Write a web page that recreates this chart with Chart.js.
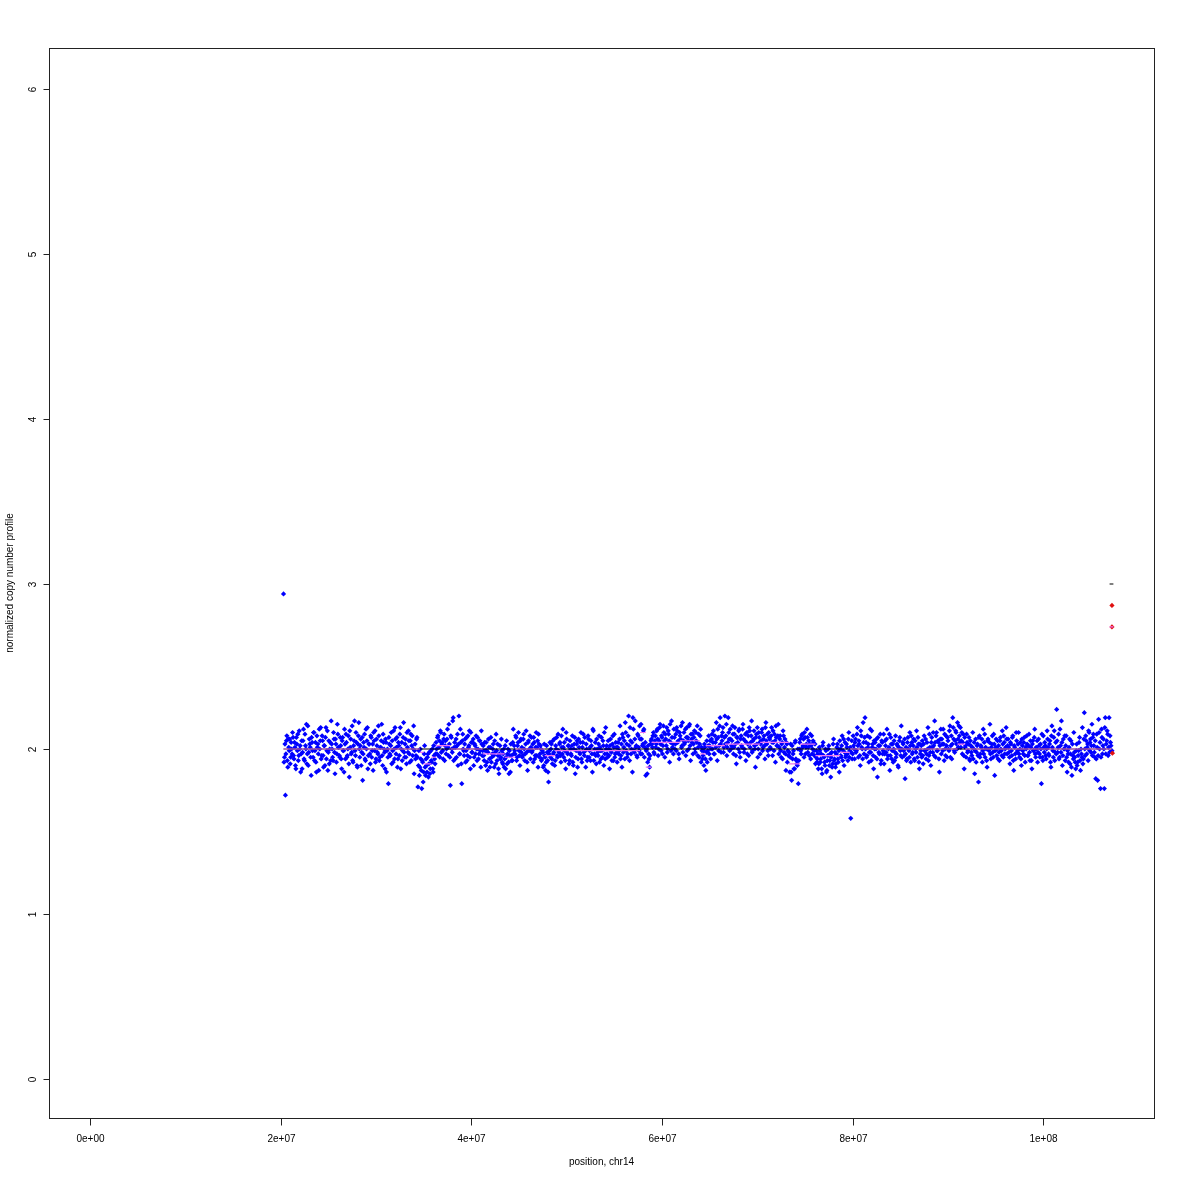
<!DOCTYPE html>
<html><head><meta charset="utf-8">
<script src="https://cdn.jsdelivr.net/npm/chart.js@4.4.1/dist/chart.umd.min.js"></script>
<style>html,body{margin:0;padding:0;background:#fff}#wrap{width:1180px;height:1180px}</style>
</head><body><div id="wrap"><canvas id="c" width="1180" height="1180"></canvas></div>
<script>
// bin positions (set A), in units of 100 kb along chr14
const positions100kb = [
203,204,205,206,207,208,209,210,211,212, 213,214,215,216,217,218,219,220,221,222,
223,224,225,226,227,228,229,230,231,232, 233,234,235,236,237,238,239,240,241,242,
243,244,245,246,247,248,249,250,251,252, 253,254,255,256,257,258,259,260,261,262,
263,264,265,266,267,268,269,270,271,272, 273,274,275,276,277,278,279,280,281,282,
283,284,285,286,287,288,289,290,291,292, 293,294,295,296,297,298,299,300,301,302,
303,304,305,306,307,308,309,310,311,312, 313,314,315,316,317,318,319,320,321,322,
323,324,325,326,327,328,329,330,331,332, 333,334,335,336,337,338,339,340,341,342,
343,344,345,346,347,348,349,350,351,352, 353,354,355,356,357,358,359,360,361,362,
363,364,365,366,367,368,369,370,371,372, 373,374,375,376,377,378,379,380,381,382,
383,384,385,386,387,388,389,390,391,392, 393,394,395,396,397,398,399,400,401,402,
403,404,405,406,407,408,409,410,411,412, 413,414,415,416,417,418,419,420,421,422,
423,424,425,426,427,428,429,430,431,432, 433,434,435,436,437,438,439,440,441,442,
443,444,445,446,447,448,449,450,451,452, 453,454,455,456,457,458,459,460,461,462,
463,464,465,466,467,468,469,470,471,472, 473,474,475,476,477,478,479,480,481,482,
483,484,485,486,487,488,489,490,491,492, 493,494,495,496,497,498,499,500,501,502,
503,504,505,506,507,508,509,510,511,512, 513,514,515,516,517,518,519,520,521,522,
523,524,525,526,527,528,529,530,531,532, 533,534,535,536,537,538,539,540,541,542,
543,544,545,546,547,548,549,550,551,552, 553,554,555,556,557,558,559,560,561,562,
563,564,565,566,567,568,569,570,571,572, 573,574,575,576,577,578,579,580,581,582,
583,584,585,586,587,588,589,590,591,592, 593,594,595,596,597,598,599,600,601,602,
603,604,605,606,607,608,609,610,611,612, 613,614,615,616,617,618,619,620,621,622,
623,624,625,626,627,628,629,630,631,632, 633,634,635,636,637,638,639,640,641,642,
643,644,645,646,647,648,649,650,651,652, 653,654,655,656,657,658,659,660,661,662,
663,664,665,666,667,668,669,670,671,672, 673,674,675,676,677,678,679,680,681,682,
683,684,685,686,687,688,689,690,691,692, 693,694,695,696,697,698,699,700,701,702,
703,704,705,706,707,708,709,710,711,712, 713,714,715,716,717,718,719,720,721,722,
723,724,725,726,727,728,729,730,731,732, 733,734,735,736,737,738,739,740,741,742,
743,744,745,746,747,748,749,750,751,752, 753,754,755,756,757,758,759,760,761,762,
763,764,765,766,767,768,769,770,771,772, 773,774,775,776,777,778,779,780,781,782,
783,784,785,786,787,788,789,790,791,792, 793,794,795,796,797,798,799,800,801,802,
803,804,805,806,807,808,809,810,811,812, 813,814,815,816,817,818,819,820,821,822,
823,824,825,826,827,828,829,830,831,832, 833,834,835,836,837,838,839,840,841,842,
843,844,845,846,847,848,849,850,851,852, 853,854,855,856,857,858,859,860,861,862,
863,864,865,866,867,868,869,870,871,872, 873,874,875,876,877,878,879,880,881,882,
883,884,885,886,887,888,889,890,891,892, 893,894,895,896,897,898,899,900,901,902,
903,904,905,906,907,908,909,910,911,912, 913,914,915,916,917,918,919,920,921,922,
923,924,925,926,927,928,929,930,931,932, 933,934,935,936,937,938,939,940,941,942,
943,944,945,946,947,948,949,950,951,952, 953,954,955,956,957,958,959,960,961,962,
963,964,965,966,967,968,969,970,971,972, 973,974,975,976,977,978,979,980,981,982,
983,984,985,986,987,988,989,990,991,992, 993,994,995,996,997,998,999,1000,1001,1002,
1003,1004,1005,1006,1007,1008,1009,1010,1011,1012, 1013,1014,1015,1016,1017,1018,1019,1020,1021,1022,
1023,1024,1025,1026,1027,1028,1029,1030,1031,1032, 1033,1034,1035,1036,1037,1038,1039,1040,1041,1042,
1043,1044,1045,1046,1047,1048,1049,1050,1051,1052, 1053,1054,1055,1056,1057,1058,1059,1060,1061,1062,
1063,1064,1065,1066,1067,1068,1069,1070,1071,1072
];
// normalized copy number per bin (set A)
const copyNumber = [
2.94,1.95,1.72,2.05,1.93,2.06,1.99,1.91,2.04,1.97, 2.07,1.94,2.01,1.88,2.03,2.09,1.96,2.00,1.86,2.05,
1.98,2.12,1.93,2.02,2.15,1.97,1.90,2.06,2.01,1.84, 2.04,1.95,2.10,1.99,1.92,2.08,2.03,1.87,2.00,2.13,
1.96,2.05,1.89,2.02,2.07,1.94,2.11,1.98,1.91,2.04, 2.17,2.00,1.93,2.06,1.85,2.03,1.97,2.09,2.01,1.95,
2.02,1.88,2.07,1.99,2.12,1.94,2.04,1.96,2.08,1.83, 2.01,1.97,2.14,1.92,2.05,1.99,2.10,1.90,2.03,2.16,
1.95,2.06,1.98,1.81,2.04,2.09,1.93,2.00,2.13,1.96, 2.03,1.91,2.07,1.99,1.87,2.05,2.11,1.94,2.02,1.97,
2.08,1.95,2.01,2.15,1.90,2.04,1.98,2.06,1.86,2.00, 1.79,2.03,1.96,2.10,2.05,1.92,2.00,2.13,1.97,2.07,
1.94,2.02,2.09,1.88,2.04,1.99,2.16,1.95,2.06,1.91, 2.01,2.11,1.97,2.05,1.93,2.08,2.00,1.85,2.03,1.96,
2.07,1.77,1.99,1.89,1.94,1.76,1.92,1.86,2.02,1.84, 1.90,1.95,1.83,1.98,1.88,1.93,2.00,1.86,1.96,1.91,
2.04,1.97,2.08,2.01,1.95,2.10,2.03,1.99,2.06,1.93, 2.05,2.00,2.12,1.96,2.03,1.78,2.07,1.98,2.19,2.01,
1.94,2.06,2.02,1.90,2.20,1.97,2.04,1.79,2.09,1.99, 2.03,1.92,2.07,1.96,2.01,2.11,1.88,2.04,1.98,2.06,
1.95,2.02,2.08,1.93,2.00,1.97,2.05,1.89,2.03,1.99, 1.96,2.04,1.90,1.99,1.87,2.06,1.94,2.01,1.92,1.97,
2.03,1.89,1.98,2.09,1.93,1.96,1.85,2.02,1.95,1.99, 1.91,2.00,1.94,1.88,2.05,1.97,1.92,1.99,1.86,1.96,
1.93,2.12,2.02,1.97,2.07,1.95,2.04,1.99,1.90,2.06, 2.01,1.96,2.09,1.93,2.03,1.98,1.87,2.05,2.00,1.94,
2.07,1.99,1.92,2.04,1.96,2.10,2.01,1.89,2.03,1.97, 2.00,1.94,1.98,1.90,1.96,1.87,2.02,1.93,1.80,1.99,
1.95,2.03,1.91,1.97,2.06,1.93,2.00,1.96,2.09,1.98, 2.04,1.92,2.01,2.12,1.95,1.99,1.88,2.06,1.97,2.02,
1.93,2.00,1.96,2.08,1.90,2.03,1.85,1.99,2.05,1.94, 2.01,1.97,2.10,1.92,2.04,1.98,2.07,1.89,2.00,1.95,
2.06,1.99,1.93,2.02,1.86,2.11,1.97,2.04,1.91,2.00, 1.96,2.08,2.01,1.94,1.99,2.05,1.90,1.97,2.13,2.02,
1.95,2.00,1.88,2.06,1.98,2.03,1.93,2.09,1.97,2.01, 1.92,2.04,1.99,2.14,1.96,1.89,2.07,2.01,1.94,2.10,
2.03,1.97,2.20,1.93,2.05,2.00,1.86,2.12,1.98,2.17, 2.02,1.95,2.08,1.99,2.06,2.15,1.97,2.03,2.12,2.01,
1.84,2.00,1.92,1.97,1.89,2.03,2.06,2.01,2.10,1.97, 2.08,2.03,2.12,1.96,2.05,2.15,1.99,2.07,2.02,2.10,
1.95,2.06,2.13,2.00,2.09,1.92,2.04,2.17,2.01,1.97, 2.07,2.03,1.99,2.11,2.05,1.94,2.08,2.14,2.02,1.98,
2.10,2.04,1.96,2.13,2.07,2.00,2.15,1.93,2.06,2.09, 2.03,2.11,1.98,2.05,2.14,2.01,1.95,2.08,1.92,1.99,
1.96,1.90,2.01,1.87,2.05,1.99,2.08,2.02,1.94,2.06, 2.00,2.11,1.97,2.04,2.16,1.93,2.07,2.02,2.19,1.98,
2.05,2.13,2.01,2.20,2.08,1.96,2.04,2.10,1.99,2.06, 2.02,2.14,1.97,2.09,2.03,1.91,2.07,2.00,2.12,1.95,
2.08,2.01,2.15,1.98,2.05,1.93,2.10,2.03,1.96,2.11, 2.04,2.17,1.99,2.06,2.02,1.89,2.09,2.13,2.00,2.07,
1.97,2.05,2.12,2.01,2.08,1.94,2.16,2.03,1.99,2.10, 2.06,2.00,2.13,1.96,2.04,2.09,1.92,2.07,2.02,2.15,
2.01,2.08,1.95,2.04,2.11,1.98,2.06,1.87,2.03,1.99, 1.96,1.86,2.03,1.81,1.94,1.99,1.88,2.05,1.93,1.90,
1.79,2.00,2.06,1.97,2.09,2.02,1.95,2.07,2.01,2.12, 1.98,2.05,2.03,1.94,2.08,2.00,2.04,1.96,1.91,1.99,
1.94,1.88,2.01,1.92,1.97,1.85,2.04,1.95,1.90,1.99, 1.87,1.96,2.02,1.93,1.83,1.98,1.91,2.06,1.94,1.89,
1.97,2.03,1.92,1.86,2.00,1.95,2.08,1.99,1.90,2.04, 1.96,2.01,1.93,2.10,1.99,1.58,2.05,1.97,2.02,1.94,
2.06,1.99,2.13,1.95,2.03,1.90,2.08,2.00,2.16,1.97, 2.19,2.04,1.96,2.01,1.92,2.07,1.98,2.11,2.03,1.88,
2.00,1.95,2.06,1.83,2.02,1.97,2.09,1.93,2.04,1.99, 1.91,2.05,1.98,2.12,1.96,2.01,1.87,2.07,1.94,2.03,
2.00,1.93,2.08,1.97,2.02,1.89,2.05,1.99,2.14,1.95, 2.03,1.96,1.82,2.01,1.94,2.07,1.99,2.10,1.92,2.04,
1.98,2.06,1.93,2.00,2.11,1.95,2.03,1.88,1.97,2.02, 2.05,1.91,2.08,1.99,1.94,2.04,2.13,1.96,2.01,1.90,
2.07,1.98,2.02,2.17,1.95,2.10,1.99,2.04,1.86,2.06, 1.97,2.03,2.12,1.93,2.00,2.08,1.95,2.05,1.99,2.14,
2.02,1.94,2.19,2.06,1.98,2.11,2.03,2.16,2.01,2.08, 2.13,2.05,1.97,2.09,1.88,2.01,1.95,2.04,1.99,2.07,
1.93,2.02,1.96,2.10,2.00,1.85,2.06,1.98,2.03,1.80, 2.08,1.97,2.01,1.92,2.12,2.04,1.95,2.00,1.89,2.06,
1.99,2.15,1.94,2.03,1.98,2.09,1.84,2.01,1.96,2.05, 2.02,1.93,2.07,1.99,2.11,1.95,2.04,2.00,2.13,1.97,
2.06,1.98,1.91,2.03,1.96,2.08,1.87,2.01,1.94,2.05, 1.99,2.10,1.95,2.04,1.90,2.02,1.97,2.07,1.92,2.00,
2.03,1.96,2.09,1.93,2.01,1.88,2.05,1.99,2.12,1.95, 2.00,1.92,2.06,1.97,2.03,1.79,1.95,2.08,1.98,2.02,
1.94,2.11,2.01,1.96,2.05,1.89,2.14,1.99,2.07,1.93, 2.04,2.24,1.98,2.09,1.95,2.02,2.17,1.90,2.06,2.00,
1.93,2.08,1.86,1.97,2.01,1.91,2.05,1.84,1.96,2.10, 1.95,1.88,2.03,1.92,1.99,2.07,1.87,1.97,2.13,1.94,
2.22,1.96,2.05,2.01,1.93,2.10,2.04,1.98,2.15,2.07, 2.02,1.95,1.82,2.09,1.81,2.18,2.00,1.76,2.12,1.97,
2.06,1.76,2.19,2.03,2.11,1.96,2.19,2.08,2.02,1.99
];
// bin positions (set B, interleaved bins), in units of 100 kb
const positionsB100kb = [
203.5,204.5,205.5,206.5,207.5,208.5,209.5,210.5,211.5,212.5, 213.5,214.5,215.5,216.5,217.5,218.5,219.5,220.5,221.5,222.5,
223.5,224.5,225.5,226.5,227.5,228.5,229.5,230.5,231.5,232.5, 233.5,234.5,235.5,236.5,237.5,238.5,239.5,240.5,241.5,242.5,
243.5,244.5,245.5,246.5,247.5,248.5,249.5,250.5,251.5,252.5, 253.5,254.5,255.5,256.5,257.5,258.5,259.5,260.5,261.5,262.5,
263.5,264.5,265.5,266.5,267.5,268.5,269.5,270.5,271.5,272.5, 273.5,274.5,275.5,276.5,277.5,278.5,279.5,280.5,281.5,282.5,
283.5,284.5,285.5,286.5,287.5,288.5,289.5,290.5,291.5,292.5, 293.5,294.5,295.5,296.5,297.5,298.5,299.5,300.5,301.5,302.5,
303.5,304.5,305.5,306.5,307.5,308.5,309.5,310.5,311.5,312.5, 313.5,314.5,315.5,316.5,317.5,318.5,319.5,320.5,321.5,322.5,
323.5,324.5,325.5,326.5,327.5,328.5,329.5,330.5,331.5,332.5, 333.5,334.5,335.5,336.5,337.5,338.5,339.5,340.5,341.5,342.5,
343.5,344.5,345.5,346.5,347.5,348.5,349.5,350.5,351.5,352.5, 353.5,354.5,355.5,356.5,357.5,358.5,359.5,360.5,361.5,362.5,
363.5,364.5,365.5,366.5,367.5,368.5,369.5,370.5,371.5,372.5, 373.5,374.5,375.5,376.5,377.5,378.5,379.5,380.5,381.5,382.5,
383.5,384.5,385.5,386.5,387.5,388.5,389.5,390.5,391.5,392.5, 393.5,394.5,395.5,396.5,397.5,398.5,399.5,400.5,401.5,402.5,
403.5,404.5,405.5,406.5,407.5,408.5,409.5,410.5,411.5,412.5, 413.5,414.5,415.5,416.5,417.5,418.5,419.5,420.5,421.5,422.5,
423.5,424.5,425.5,426.5,427.5,428.5,429.5,430.5,431.5,432.5, 433.5,434.5,435.5,436.5,437.5,438.5,439.5,440.5,441.5,442.5,
443.5,444.5,445.5,446.5,447.5,448.5,449.5,450.5,451.5,452.5, 453.5,454.5,455.5,456.5,457.5,458.5,459.5,460.5,461.5,462.5,
463.5,464.5,465.5,466.5,467.5,468.5,469.5,470.5,471.5,472.5, 473.5,474.5,475.5,476.5,477.5,478.5,479.5,480.5,481.5,482.5,
483.5,484.5,485.5,486.5,487.5,488.5,489.5,490.5,491.5,492.5, 493.5,494.5,495.5,496.5,497.5,498.5,499.5,500.5,501.5,502.5,
503.5,504.5,505.5,506.5,507.5,508.5,509.5,510.5,511.5,512.5, 513.5,514.5,515.5,516.5,517.5,518.5,519.5,520.5,521.5,522.5,
523.5,524.5,525.5,526.5,527.5,528.5,529.5,530.5,531.5,532.5, 533.5,534.5,535.5,536.5,537.5,538.5,539.5,540.5,541.5,542.5,
543.5,544.5,545.5,546.5,547.5,548.5,549.5,550.5,551.5,552.5, 553.5,554.5,555.5,556.5,557.5,558.5,559.5,560.5,561.5,562.5,
563.5,564.5,565.5,566.5,567.5,568.5,569.5,570.5,571.5,572.5, 573.5,574.5,575.5,576.5,577.5,578.5,579.5,580.5,581.5,582.5,
583.5,584.5,585.5,586.5,587.5,588.5,589.5,590.5,591.5,592.5, 593.5,594.5,595.5,596.5,597.5,598.5,599.5,600.5,601.5,602.5,
603.5,604.5,605.5,606.5,607.5,608.5,609.5,610.5,611.5,612.5, 613.5,614.5,615.5,616.5,617.5,618.5,619.5,620.5,621.5,622.5,
623.5,624.5,625.5,626.5,627.5,628.5,629.5,630.5,631.5,632.5, 633.5,634.5,635.5,636.5,637.5,638.5,639.5,640.5,641.5,642.5,
643.5,644.5,645.5,646.5,647.5,648.5,649.5,650.5,651.5,652.5, 653.5,654.5,655.5,656.5,657.5,658.5,659.5,660.5,661.5,662.5,
663.5,664.5,665.5,666.5,667.5,668.5,669.5,670.5,671.5,672.5, 673.5,674.5,675.5,676.5,677.5,678.5,679.5,680.5,681.5,682.5,
683.5,684.5,685.5,686.5,687.5,688.5,689.5,690.5,691.5,692.5, 693.5,694.5,695.5,696.5,697.5,698.5,699.5,700.5,701.5,702.5,
703.5,704.5,705.5,706.5,707.5,708.5,709.5,710.5,711.5,712.5, 713.5,714.5,715.5,716.5,717.5,718.5,719.5,720.5,721.5,722.5,
723.5,724.5,725.5,726.5,727.5,728.5,729.5,730.5,731.5,732.5, 733.5,734.5,735.5,736.5,737.5,738.5,739.5,740.5,741.5,742.5,
743.5,744.5,745.5,746.5,747.5,748.5,749.5,750.5,751.5,752.5, 753.5,754.5,755.5,756.5,757.5,758.5,759.5,760.5,761.5,762.5,
763.5,764.5,765.5,766.5,767.5,768.5,769.5,770.5,771.5,772.5, 773.5,774.5,775.5,776.5,777.5,778.5,779.5,780.5,781.5,782.5,
783.5,784.5,785.5,786.5,787.5,788.5,789.5,790.5,791.5,792.5, 793.5,794.5,795.5,796.5,797.5,798.5,799.5,800.5,801.5,802.5,
803.5,804.5,805.5,806.5,807.5,808.5,809.5,810.5,811.5,812.5, 813.5,814.5,815.5,816.5,817.5,818.5,819.5,820.5,821.5,822.5,
823.5,824.5,825.5,826.5,827.5,828.5,829.5,830.5,831.5,832.5, 833.5,834.5,835.5,836.5,837.5,838.5,839.5,840.5,841.5,842.5,
843.5,844.5,845.5,846.5,847.5,848.5,849.5,850.5,851.5,852.5, 853.5,854.5,855.5,856.5,857.5,858.5,859.5,860.5,861.5,862.5,
863.5,864.5,865.5,866.5,867.5,868.5,869.5,870.5,871.5,872.5, 873.5,874.5,875.5,876.5,877.5,878.5,879.5,880.5,881.5,882.5,
883.5,884.5,885.5,886.5,887.5,888.5,889.5,890.5,891.5,892.5, 893.5,894.5,895.5,896.5,897.5,898.5,899.5,900.5,901.5,902.5,
903.5,904.5,905.5,906.5,907.5,908.5,909.5,910.5,911.5,912.5, 913.5,914.5,915.5,916.5,917.5,918.5,919.5,920.5,921.5,922.5,
923.5,924.5,925.5,926.5,927.5,928.5,929.5,930.5,931.5,932.5, 933.5,934.5,935.5,936.5,937.5,938.5,939.5,940.5,941.5,942.5,
943.5,944.5,945.5,946.5,947.5,948.5,949.5,950.5,951.5,952.5, 953.5,954.5,955.5,956.5,957.5,958.5,959.5,960.5,961.5,962.5,
963.5,964.5,965.5,966.5,967.5,968.5,969.5,970.5,971.5,972.5, 973.5,974.5,975.5,976.5,977.5,978.5,979.5,980.5,981.5,982.5,
983.5,984.5,985.5,986.5,987.5,988.5,989.5,990.5,991.5,992.5, 993.5,994.5,995.5,996.5,997.5,998.5,999.5,1000.5,1001.5,1002.5,
1003.5,1004.5,1005.5,1006.5,1007.5,1008.5,1009.5,1010.5,1011.5,1012.5, 1013.5,1014.5,1015.5,1016.5,1017.5,1018.5,1019.5,1020.5,1021.5,1022.5,
1023.5,1024.5,1025.5,1026.5,1027.5,1028.5,1029.5,1030.5,1031.5,1032.5, 1033.5,1034.5,1035.5,1036.5,1037.5,1038.5,1039.5,1040.5,1041.5,1042.5,
1043.5,1044.5,1045.5,1046.5,1047.5,1048.5,1049.5,1050.5,1051.5,1052.5, 1053.5,1054.5,1055.5,1056.5,1057.5,1058.5,1059.5,1060.5,1061.5,1062.5,
1063.5,1064.5,1065.5,1066.5,1067.5,1068.5,1069.5,1070.5
];
// normalized copy number per bin (set B)
const copyNumberB = [
1.92,2.03,1.97,2.08,1.89,2.01,2.06,1.95,2.00,2.10, 1.96,2.04,1.90,2.07,1.99,1.93,2.11,2.02,1.97,1.88,
2.05,1.94,2.09,2.00,1.91,2.14,1.98,2.03,1.95,2.07, 1.99,2.10,1.93,2.04,1.86,2.01,1.97,2.12,2.05,1.94,
2.08,1.96,2.02,1.90,2.13,1.99,1.87,2.05,2.00,1.93, 2.03,1.95,2.10,1.98,2.06,1.92,2.15,2.01,1.96,2.07,
1.94,2.05,1.99,1.86,2.03,2.09,1.95,2.00,1.91,2.11, 2.06,1.98,1.93,2.02,2.17,1.96,2.04,1.89,2.08,2.00,
2.02,1.90,2.07,1.97,2.01,1.94,2.12,2.05,1.88,2.03, 1.97,2.08,1.95,2.03,2.10,1.99,1.92,2.06,1.98,2.14,
1.93,2.01,2.05,1.96,2.09,2.00,1.88,2.04,1.99,1.95, 2.07,1.97,2.02,1.91,1.99,2.11,1.94,2.06,2.01,1.89,
2.04,1.96,2.13,2.00,1.93,2.07,1.98,2.03,1.95,2.10, 1.98,2.05,1.92,2.09,2.02,1.96,2.14,1.99,1.94,2.06,
1.95,1.90,1.84,2.00,1.87,1.93,1.80,1.97,1.89,1.94, 1.86,1.97,1.91,1.85,1.99,1.92,1.88,2.02,1.94,1.97,
2.00,2.07,1.96,2.05,2.11,1.98,2.04,1.94,2.09,2.02, 1.97,2.06,2.01,2.15,1.95,2.08,2.00,2.17,1.93,2.04,
2.01,1.95,2.09,2.03,1.97,2.12,1.91,2.05,2.00,1.96, 2.06,1.99,1.93,2.08,2.02,1.95,2.10,1.98,2.04,1.90,
2.03,1.97,2.00,2.07,1.94,2.05,1.99,2.11,1.96,2.02, 1.93,1.99,2.04,1.92,1.98,2.01,1.89,2.07,1.95,2.00,
1.96,2.05,1.91,1.99,2.03,1.88,1.97,1.94,2.06,1.92, 1.97,1.89,2.02,1.95,1.91,2.00,1.85,1.96,2.03,1.93,
2.04,1.97,1.99,2.08,1.93,2.02,2.10,1.96,2.05,1.98, 1.95,2.06,2.00,1.97,2.11,1.92,2.04,1.99,2.08,2.01,
1.98,2.03,2.07,1.94,2.01,1.96,2.05,2.09,1.95,2.02, 1.93,1.99,1.89,2.03,1.95,1.92,1.98,1.86,1.97,2.04,
2.00,1.94,2.05,1.98,1.90,2.02,2.07,1.95,1.99,2.03, 1.96,2.08,1.97,2.01,2.04,1.93,2.10,1.98,2.02,1.91,
2.05,1.97,2.02,1.92,2.00,2.07,1.95,2.03,1.89,2.06, 1.98,2.04,1.94,2.01,2.09,1.96,1.99,2.03,1.93,2.08,
1.95,2.01,2.05,1.97,2.12,1.93,2.00,1.96,2.06,1.98, 2.03,1.92,1.99,2.07,1.95,2.02,2.10,1.94,2.00,1.97,
2.05,1.96,2.02,1.99,1.93,2.08,2.01,1.95,2.04,1.98, 2.01,1.97,2.06,1.94,2.03,2.09,1.98,2.05,2.16,1.99,
1.95,2.08,2.02,2.13,1.97,2.04,2.19,1.99,2.06,2.01, 1.96,2.09,2.01,2.14,1.97,2.06,2.02,2.11,1.95,2.04,
1.99,1.85,2.02,1.94,1.96,2.05,2.03,2.08,1.98,2.05, 2.01,2.11,2.06,2.00,2.13,2.03,2.08,1.97,2.14,2.05,
2.09,2.02,1.98,2.11,2.05,2.15,1.99,2.07,2.03,2.12, 2.00,2.09,2.13,2.04,1.97,2.10,2.06,2.01,2.16,2.05,
2.03,2.12,2.07,1.99,2.05,2.14,2.02,2.09,2.04,1.97, 2.07,2.00,2.10,2.04,1.96,2.09,2.03,2.12,2.01,1.94,
1.99,2.03,1.94,1.98,1.92,2.02,1.97,2.05,2.00,2.09, 2.04,1.97,2.08,2.01,2.06,2.12,1.99,2.14,2.03,2.08,
2.10,1.98,2.07,2.03,2.15,2.01,2.19,2.06,2.12,2.00, 2.05,2.09,2.01,2.13,1.96,2.07,2.04,2.11,1.98,2.06,
2.02,2.12,2.06,2.00,2.09,2.04,1.97,2.08,2.13,2.01, 2.08,1.98,2.05,2.11,2.00,2.07,2.03,1.95,2.10,2.04,
2.03,2.10,1.99,2.06,2.02,2.13,2.05,2.09,1.96,2.07, 2.01,2.08,2.04,2.11,1.99,2.05,2.14,2.02,2.08,1.97,
2.06,1.99,2.03,1.94,2.08,2.01,1.97,2.04,1.92,1.96, 1.98,1.95,1.86,2.02,1.97,1.88,2.04,1.94,1.91,2.00,
1.93,2.04,1.99,2.08,2.01,2.06,2.10,1.97,2.03,2.07, 2.01,1.96,2.09,2.02,1.97,2.05,1.99,2.03,1.95,1.92,
1.97,1.91,1.99,1.94,1.88,2.02,1.96,1.92,2.00,1.86, 1.93,2.00,1.90,1.97,1.95,1.89,2.03,1.93,1.98,1.91,
2.01,1.94,1.99,2.05,1.96,2.02,1.93,2.06,1.98,1.95, 2.03,1.97,2.06,1.95,2.01,1.98,1.94,2.08,2.00,2.04,
1.98,2.09,2.02,2.05,1.96,2.11,2.01,1.94,2.04,2.07, 2.00,1.95,2.08,2.03,1.98,2.12,1.93,2.01,1.96,2.05,
2.04,2.00,1.94,2.07,1.98,2.02,1.91,2.05,1.97,2.09, 1.97,2.02,2.06,1.94,2.00,2.09,1.96,2.03,1.99,1.92,
2.05,1.98,1.95,2.03,1.90,2.01,2.07,1.96,2.00,2.04, 1.99,2.06,1.97,1.93,2.04,2.00,1.95,2.02,2.08,1.97,
2.02,1.94,2.05,1.98,2.01,2.07,1.92,2.03,1.99,1.95, 1.96,2.03,1.99,2.06,1.97,2.00,1.93,2.09,1.98,2.04,
2.01,2.10,1.96,2.04,2.08,1.99,2.05,1.94,2.02,2.12, 2.06,1.99,2.03,2.09,1.96,2.02,2.07,2.00,2.11,1.95,
2.08,2.03,2.13,1.99,2.05,2.10,2.00,2.06,2.14,2.04, 2.01,2.10,2.04,1.96,2.07,2.02,2.09,1.98,2.03,1.94,
2.05,1.98,2.01,1.94,2.04,1.99,1.92,2.02,1.96,2.07, 1.95,2.02,2.06,1.99,1.97,2.09,2.01,1.93,2.05,2.00,
2.04,1.97,2.01,2.08,1.95,2.03,1.99,2.06,2.00,1.94, 1.98,2.05,2.00,1.96,2.03,2.08,1.97,2.01,2.06,2.02,
2.01,1.95,2.04,1.99,2.07,1.93,2.02,1.97,2.10,1.98, 2.03,1.97,2.00,1.94,2.06,1.99,2.04,1.96,2.01,2.08,
1.96,2.02,1.98,2.05,1.93,2.03,1.99,2.07,1.97,2.01, 2.05,1.98,2.02,1.95,2.00,2.09,1.93,2.01,2.04,1.96,
2.00,2.06,1.97,2.03,1.92,2.08,2.01,1.95,2.11,1.98, 1.97,2.05,2.01,1.94,2.12,1.98,2.04,1.96,2.00,2.08,
2.02,1.95,1.99,1.92,2.06,1.97,1.89,2.03,1.94,1.98, 1.92,1.99,1.90,1.96,2.04,1.93,2.00,1.95,1.91,2.06,
2.00,2.08,1.97,2.03,2.11,1.99,2.06,2.02,1.96,2.09, 1.98,2.05,1.94,2.01,1.96,2.10,2.04,1.95,2.07,2.02,
2.00,2.13,1.97,2.05,2.09,2.01,1.98,2.04
];
// segmented profile (violet)
const segStartsMb = [20.3,34.6,35.0,35.8,36.3,37.8,41.2,43.5,44.6,47.7,48.8,57.7,58.3,58.9,61.9,64.0,64.6,66.6,70.3,73.3,74.5,76.1,78.7,79.7,91.0,91.8,106.95];
const segEndsMb   = [34.6,35.0,35.8,36.3,37.8,41.2,43.5,44.6,47.7,48.8,57.7,58.3,58.9,61.9,64.0,64.6,66.6,70.3,73.3,74.5,76.1,78.7,79.7,91.0,91.8,107.17,107.35];
const segValues   = [2.00,1.98,1.91,1.95,2.02,2.00,1.97,1.95,2.00,1.96,1.99,2.10,1.89,2.04,2.05,1.97,2.02,2.03,2.04,1.91,2.03,1.96,1.98,2.00,2.03,2.00,2.74];
// integer copy-number calls (black)
const callStartsMb = [20.3, 106.95];
const callEndsMb   = [107.17, 107.35];
const callValues   = [2, 3];
// red points at chromosome end
const redPositionsMb = [107.2, 107.2, 107.25];
const redValues      = [2.87, 2.74, 1.975];
// axes
const xTickValues = [0, 2e7, 4e7, 6e7, 8e7, 1e8];
const xTickLabels = ["0e+00", "2e+07", "4e+07", "6e+07", "8e+07", "1e+08"];
const yTickValues = [0, 1, 2, 3, 4, 5, 6];
const yTickLabels = ["0", "1", "2", "3", "4", "5", "6"];
const xTitle = "position, chr14";
const yTitle = "normalized copy number profile";

const blueData = [];
const nA = Math.min(positions100kb.length, copyNumber.length);
for (let i = 0; i < nA; i++) blueData.push({x: positions100kb[i] * 1e5, y: copyNumber[i]});
const nB = Math.min(positionsB100kb.length, copyNumberB.length);
for (let i = 0; i < nB; i++) blueData.push({x: positionsB100kb[i] * 1e5, y: copyNumberB[i]});
function segData(starts, ends, vals) {
  const d = [];
  for (let i = 0; i < vals.length; i++) {
    d.push({x: starts[i] * 1e6, y: vals[i]});
    d.push({x: ends[i] * 1e6, y: vals[i]});
    d.push({x: ends[i] * 1e6, y: null});
  }
  return d;
}
const redData = redPositionsMb.map((p, i) => ({x: p * 1e6, y: redValues[i]}));

const FONT = "10px 'Liberation Sans', Arial, Helvetica, sans-serif";
const axesPlugin = {
  id: 'rAxes',
  afterDraw(chart) {
    const ctx = chart.ctx, a = chart.chartArea;
    const xs = chart.scales.x, ys = chart.scales.y;
    ctx.save();
    ctx.strokeStyle = '#222';
    ctx.lineWidth = 1;
    ctx.strokeRect(Math.round(a.left) + 0.5, Math.round(a.top) + 0.5, Math.round(a.right - a.left), Math.round(a.bottom - a.top));
    ctx.fillStyle = '#000';
    ctx.font = FONT;
    ctx.textAlign = 'center';
    ctx.textBaseline = 'middle';
    const b = Math.round(a.bottom) + 0.5;
    xTickValues.forEach((v, i) => {
      const px = Math.round(xs.getPixelForValue(v)) + 0.5;
      ctx.beginPath(); ctx.moveTo(px, b); ctx.lineTo(px, b + 7); ctx.stroke();
      ctx.fillText(xTickLabels[i], px, a.bottom + 21);
    });
    const l = Math.round(a.left) + 0.5;
    yTickValues.forEach((v, i) => {
      const py = Math.round(ys.getPixelForValue(v)) + 0.5;
      ctx.beginPath(); ctx.moveTo(l - 6, py); ctx.lineTo(l, py); ctx.stroke();
      ctx.save();
      ctx.translate(a.left - 16, py);
      ctx.rotate(-Math.PI / 2);
      ctx.fillText(yTickLabels[i], 0, 0);
      ctx.restore();
    });
    ctx.fillText(xTitle, (a.left + a.right) / 2, a.bottom + 44);
    ctx.save();
    ctx.translate(10, (a.top + a.bottom) / 2);
    ctx.rotate(-Math.PI / 2);
    ctx.fillText(yTitle, 0, 0);
    ctx.restore();
    ctx.restore();
  }
};

new Chart(document.getElementById('c'), {
  type: 'scatter',
  data: {
    datasets: [
      {label: 'segments', data: segData(segStartsMb, segEndsMb, segValues), showLine: true, spanGaps: false,
       borderColor: '#EE74EE', borderWidth: 1.2, pointRadius: 0, order: 0},
      {label: 'end bins', data: redData, pointStyle: 'rectRot', pointRadius: 2.6, backgroundColor: '#E01010',
       borderWidth: 0, order: 1},
      {label: 'calls', data: segData(callStartsMb, callEndsMb, callValues), showLine: true, spanGaps: false,
       borderColor: '#000', borderWidth: 1.1, pointRadius: 0, order: 2},
      {label: 'ratio', data: blueData, pointStyle: 'rectRot', pointRadius: 2.6, backgroundColor: '#0000FF',
       borderWidth: 0, order: 3}
    ]
  },
  options: {
    responsive: false,
    animation: false,
    devicePixelRatio: 1,
    layout: {padding: {left: 49, top: 48, right: 26, bottom: 62}},
    plugins: {legend: {display: false}, tooltip: {enabled: false}},
    scales: {
      x: {type: 'linear', display: false, min: -4.30e6, max: 1.1161e8},
      y: {type: 'linear', display: false, min: -0.2363, max: 6.2485}
    }
  },
  plugins: [axesPlugin]
});
</script>
</body></html>
